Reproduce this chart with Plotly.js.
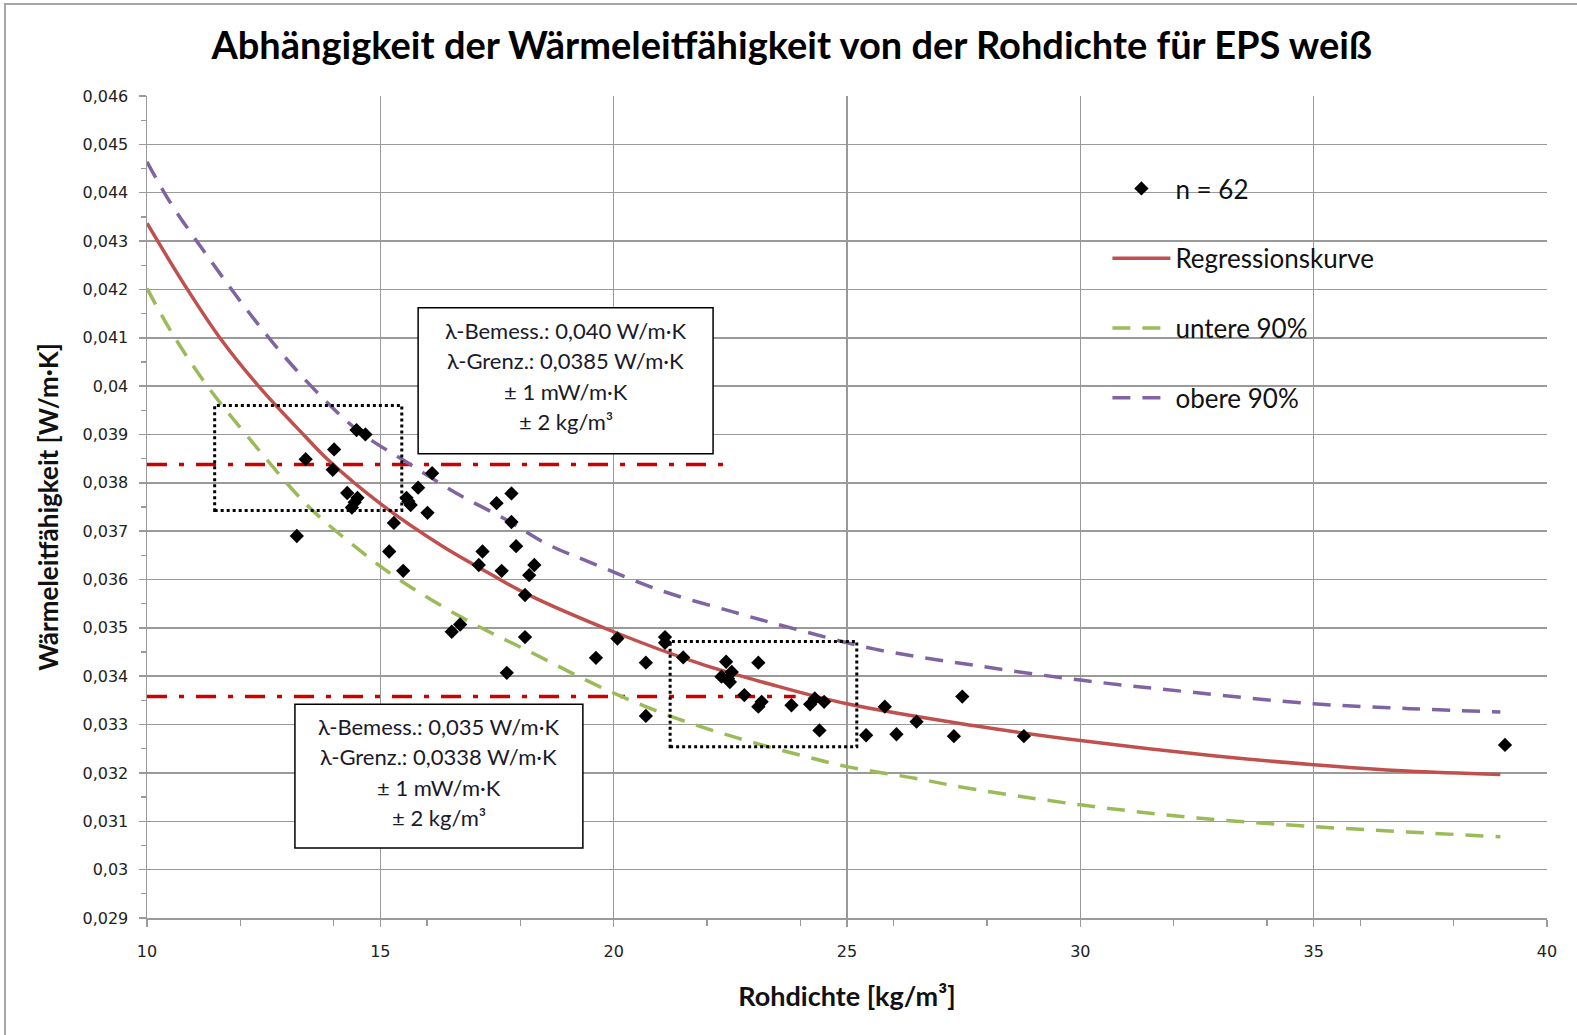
<!DOCTYPE html>
<html>
<head>
<meta charset="utf-8">
<script src="https://cdn.plot.ly/plotly-3.0.1.min.js"></script>
<style>
  html, body { margin: 0; padding: 0; background: #ffffff; overflow: hidden; }
  #chart { position: absolute; left: 0; top: 0; width: 1577px; height: 1035px; }
  #frame { position: absolute; left: 4px; top: 3px; width: 1640px; height: 1100px;
           border: 2px solid #a6a6a6; pointer-events: none; }
</style>
</head>
<body>
<div id="chart"></div>
<div id="frame"></div>
<script>
// ---- measured data (Rohdichte in kg/m³, Wärmeleitfähigkeit in W/m·K) ----
const densityX = [13.21, 13.40, 14.01, 13.98, 14.49, 14.68, 14.29, 14.51, 14.39, 14.45,
                  15.29, 15.56, 15.65, 15.60, 15.81, 16.01, 16.11, 15.19, 15.49,
                  17.19, 17.11, 17.49, 17.81, 17.81, 17.91, 17.60, 18.30, 18.19, 18.10,
                  16.53, 16.71, 18.10, 17.71, 19.62, 20.08, 20.69, 20.69, 21.10, 21.10,
                  21.49, 22.41, 22.31, 22.49, 22.53, 22.45, 23.10, 22.80, 23.17, 23.10,
                  23.81, 24.21, 24.31, 24.51, 24.41, 25.41, 25.81, 26.06, 26.49, 27.29,
                  27.47, 28.79, 39.10];
const lambdaY  = [0.03690, 0.03849, 0.03869, 0.03827, 0.03909, 0.03900, 0.03779, 0.03769, 0.03749, 0.03760,
                  0.03717, 0.03769, 0.03754, 0.03762, 0.03790, 0.03738, 0.03820, 0.03658, 0.03618,
                  0.03658, 0.03630, 0.03758, 0.03778, 0.03719, 0.03669, 0.03618, 0.03630, 0.03609, 0.03568,
                  0.03492, 0.03507, 0.03481, 0.03407, 0.03438, 0.03478, 0.03428, 0.03318, 0.03481, 0.03469,
                  0.03439, 0.03430, 0.03399, 0.03388, 0.03409, 0.03395, 0.03428, 0.03361, 0.03347, 0.03337,
                  0.03340, 0.03342, 0.03354, 0.03347, 0.03288, 0.03278, 0.03337, 0.03280, 0.03306, 0.03276,
                  0.03358, 0.03276, 0.03258];

// ---- regression curve ----
const regX = [10, 10.8, 11.56, 12.39, 13.35, 13.92, 15.0, 16.28, 17.35, 18.1, 20.0, 21.85, 23.3, 25.0, 27.7, 30.0, 32.9, 35.0, 37.0, 39.0];
const regY = [0.04337, 0.04210, 0.04100, 0.04000, 0.03900, 0.03844, 0.03757, 0.03672, 0.03612, 0.03572, 0.03492, 0.03426, 0.03385, 0.03343, 0.03298, 0.03267, 0.03235, 0.03217, 0.03204, 0.03197];

// ---- lower 90 % band ----
const lowX = [10, 10.56, 11.28, 12.13, 13.42, 14.42, 15.42, 16.85, 18.28, 19.71, 21.14, 22.56, 23.99, 25.0, 26.46, 27.5, 30.0, 32.5, 35.0, 37.0, 39.0];
const lowY = [0.04202, 0.04106, 0.04002, 0.03899, 0.03755, 0.03671, 0.03599, 0.03516, 0.03447, 0.03378, 0.03320, 0.03275, 0.03237, 0.03213, 0.03189, 0.03170, 0.03134, 0.03107, 0.03089, 0.03078, 0.03068];

// ---- upper 90 % band ----
const upX = [10, 10.49, 11.28, 12.06, 12.92, 13.78, 14.56, 15.56, 16.64, 17.71, 18.56, 19.56, 20.99, 22.56, 23.99, 25.6, 27.7, 30.0, 32.38, 35.0, 37.06, 39.0];
const upY = [0.04464, 0.04381, 0.04271, 0.04168, 0.04064, 0.03974, 0.03905, 0.03843, 0.03778, 0.03723, 0.03674, 0.03633, 0.03578, 0.03533, 0.03495, 0.03456, 0.03423, 0.03392, 0.03367, 0.03343, 0.03333, 0.03326];

// ---- limit lines (λ-Grenz) ----
const limitLevels = [0.03838, 0.03358];
const limitStartX = [10, 10];
const limitEndX = [22.35, 23.9];

// ---- tolerance boxes (± 2 kg/m³, ± 1 mW/m·K) ----
const tolBoxX0 = [11.45, 21.21];
const tolBoxX1 = [15.46, 25.21];
const tolBoxY0 = [0.03743, 0.03254];
const tolBoxY1 = [0.03960, 0.03472];

// ---- text boxes ----
const noteBoxX0 = [15.81, 13.17];
const noteBoxX1 = [22.13, 19.34];
const noteBoxY0 = [0.03860, 0.03045];
const noteBoxY1 = [0.04162, 0.03342];
const noteLines = [
  ["λ-Bemess.: 0,040 W/m·K", "λ-Grenz.: 0,0385 W/m·K", "± 1 mW/m·K", "± 2 kg/m³"],
  ["λ-Bemess.: 0,035 W/m·K", "λ-Grenz.: 0,0338 W/m·K", "± 1 mW/m·K", "± 2 kg/m³"]
];

// ---- ticks ----
const xTickVals = [10, 15, 20, 25, 30, 35, 40];
const xTickLabels = ["10", "15", "20", "25", "30", "35", "40"];
const yTickVals = [0.029, 0.030, 0.031, 0.032, 0.033, 0.034, 0.035, 0.036, 0.037, 0.038, 0.039, 0.040, 0.041, 0.042, 0.043, 0.044, 0.045, 0.046];
const yTickLabels = ["0,029", "0,03", "0,031", "0,032", "0,033", "0,034", "0,035", "0,036", "0,037", "0,038", "0,039", "0,04", "0,041", "0,042", "0,043", "0,044", "0,045", "0,046"];

const seriesNames = ["n = 62", "Regressionskurve", "untere 90%", "obere 90%"];

const traces = [];
for (let i = 0; i < limitLevels.length; i++) {
  traces.push({
    x: [limitStartX[i], limitEndX[i]], y: [limitLevels[i], limitLevels[i]],
    mode: "lines", type: "scatter", showlegend: false, hoverinfo: "skip",
    line: { color: "#cc0000", width: 3.5, dash: "20px,12px,5px,12px" }
  });
}
traces.push({
  x: regX, y: regY, name: seriesNames[1], legendgroup: "g2", legendrank: 2,
  mode: "lines", type: "scatter", line: { color: "#c0504d", width: 3.5, shape: "spline", smoothing: 1 }
});
traces.push({
  x: lowX, y: lowY, name: seriesNames[2], legendgroup: "g3", legendrank: 3,
  mode: "lines", type: "scatter", line: { color: "#9bbb59", width: 3.5, dash: "18px,12px", shape: "spline", smoothing: 1 }
});
traces.push({
  x: upX, y: upY, name: seriesNames[3], legendgroup: "g4", legendrank: 4,
  mode: "lines", type: "scatter", line: { color: "#8064a2", width: 3.5, dash: "18px,12px", shape: "spline", smoothing: 1 }
});
traces.push({
  x: densityX, y: lambdaY, name: seriesNames[0], legendgroup: "g1", legendrank: 1,
  mode: "markers", type: "scatter",
  marker: { symbol: "diamond", size: 11, color: "#000000", line: { width: 0 } }
});

const shapes = [];
for (let i = 0; i < tolBoxX0.length; i++) {
  shapes.push({
    type: "rect", xref: "x", yref: "y", layer: "above",
    x0: tolBoxX0[i], x1: tolBoxX1[i], y0: tolBoxY0[i], y1: tolBoxY1[i],
    line: { color: "#000000", width: 3, dash: "dot" }, fillcolor: "rgba(0,0,0,0)"
  });
}
for (let i = 0; i < noteBoxX0.length; i++) {
  shapes.push({
    type: "rect", xref: "x", yref: "y", layer: "above",
    x0: noteBoxX0[i], x1: noteBoxX1[i], y0: noteBoxY0[i], y1: noteBoxY1[i],
    line: { color: "#000000", width: 1.5 }, fillcolor: "#ffffff"
  });
}

const lineShifts = [50, 20, -11, -41];
const annotations = [];
for (let i = 0; i < noteLines.length; i++) {
  const cx = (noteBoxX0[i] + noteBoxX1[i]) / 2;
  const cy = (noteBoxY0[i] + noteBoxY1[i]) / 2;
  for (let j = 0; j < noteLines[i].length; j++) {
    annotations.push({
      x: cx, y: cy, xref: "x", yref: "y", text: noteLines[i][j], showarrow: false,
      xanchor: "center", yanchor: "middle", yshift: lineShifts[j],
      font: { family: "Lato", size: 22, color: "#1a1a2a" }
    });
  }
}

const layout = {
  width: 1577, height: 1035,
  margin: { l: 147, r: 30, t: 96, b: 117 },
  paper_bgcolor: "#ffffff", plot_bgcolor: "#ffffff",
  font: { family: "Lato", color: "#111111" },
  title: {
    text: "<b>Abhängigkeit der Wärmeleitfähigkeit von der Rohdichte für EPS weiß</b>",
    font: { family: "Lato", size: 38, color: "#000000" },
    x: 0.502, xanchor: "center", xref: "container", y: 0.956, yanchor: "middle", yref: "container"
  },
  xaxis: {
    range: [10, 40], tickmode: "array", tickvals: xTickVals, ticktext: xTickLabels,
    showgrid: true, gridcolor: "#9a9a9a", gridwidth: 1.5,
    showline: true, linecolor: "#9a9a9a", linewidth: 1.5, mirror: false,
    ticks: "outside", ticklen: 7, tickcolor: "#9a9a9a", tickwidth: 1.5,
    minor: { dtick: 2, tick0: 10, ticks: "outside", ticklen: 6, tickcolor: "#9a9a9a", tickwidth: 1.3, showgrid: false },
    tickfont: { family: "DejaVu Sans", size: 16, color: "#222222" },
    ticklabelstandoff: 11,
    zeroline: false,
    title: { text: "<b>Rohdichte [kg/m³]</b>", font: { family: "Lato", size: 27, color: "#111111" }, standoff: 27 }
  },
  yaxis: {
    range: [0.029, 0.046], tickmode: "array", tickvals: yTickVals, ticktext: yTickLabels,
    showgrid: true, gridcolor: "#9a9a9a", gridwidth: 1.5,
    showline: true, linecolor: "#9a9a9a", linewidth: 1.5,
    ticks: "outside", ticklen: 7, tickcolor: "#9a9a9a", tickwidth: 1.5,
    minor: { dtick: 0.0005, tick0: 0.029, ticks: "outside", ticklen: 5, tickcolor: "#9a9a9a", tickwidth: 1.3, showgrid: false },
    tickfont: { family: "DejaVu Sans", size: 16, color: "#222222" },
    ticklabelstandoff: 7,
    zeroline: false,
    title: { text: "<b>Wärmeleitfähigkeit [W/m·K]</b>", font: { family: "Lato", size: 26, color: "#111111" }, standoff: 16 }
  },
  showlegend: true,
  legend: {
    x: 0.686, xanchor: "left", y: 0.916, yanchor: "top",
    bgcolor: "rgba(0,0,0,0)", borderwidth: 0,
    font: { family: "Lato", size: 26, color: "#111111" },
    traceorder: "grouped", tracegroupgap: 33, itemwidth: 58
  },
  shapes: shapes,
  annotations: annotations
};

Plotly.newPlot("chart", traces, layout, { displayModeBar: false, staticPlot: true });
</script>
</body>
</html>
